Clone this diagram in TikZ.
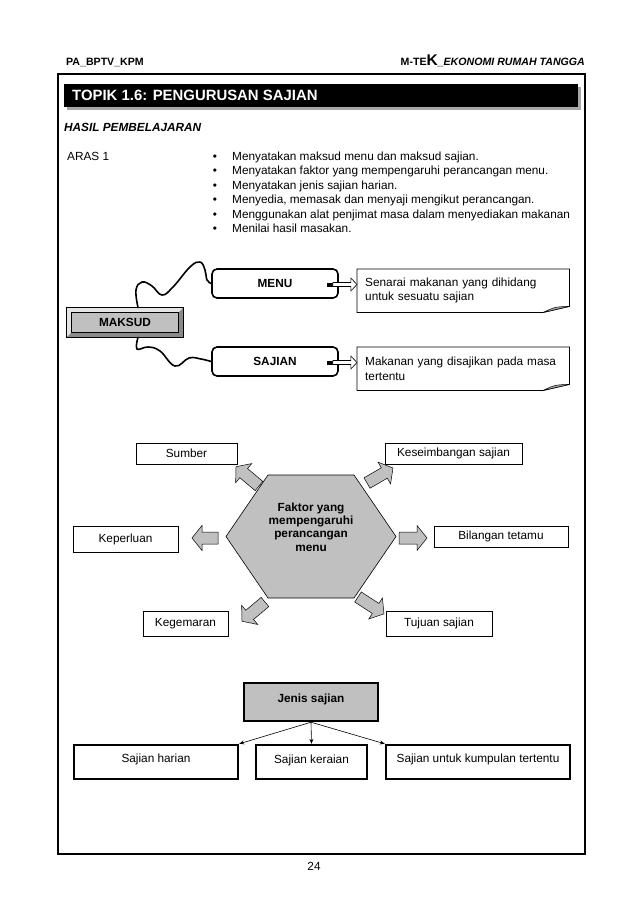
\documentclass[tikz,border=0pt]{standalone}
\usepackage{fontspec}
\setmainfont{Liberation Sans}
\definecolor{greyFill}{HTML}{C0C0C0}
\definecolor{greyLight}{HTML}{E4E4E4}
\definecolor{greyDark}{HTML}{8A8A8A}
\definecolor{greyShadow}{HTML}{A6A6A6}
\usetikzlibrary{
  positioning,
  calc,
  arrows.meta
}
\newcommand{\bodyfont}{\fontsize{11.8}{14.3}\selectfont}

\tikzset{
  factorbox/.style = {draw, line width = 0.8pt, inner sep = 0pt, font = \bodyfont},
  thickbox/.style = {draw, line width = 2.4pt, inner sep = 0pt, fill = white, font = \bodyfont},
  roundbox/.style = {
    draw, line width = 1.6pt, rounded corners = 5pt, fill = white, inner sep = 0pt,
    minimum width = 126pt, minimum height = 29pt, font = \bodyfont\bfseries
  },
  notebox/.style = {
    align = left, text width = 196pt, inner xsep = 8pt, inner ysep = 0pt,
    minimum height = 43pt, anchor = north west, font = \bodyfont
  },
  blockarr/.style = {draw, line width = 0.5pt, fill = greyFill},
  hollowarr/.style = {draw, line width = 0.6pt, fill = white},
  wavy/.style = {line width = 1.6pt, line cap = round},
  thinlink/.style = {-{Stealth[length = 5pt, width = 4pt]}, line width = 0.6pt}
}

\begin{document}
\begin{tikzpicture}[x = 1pt, y = -1pt, font = \bodyfont]
  \useasboundingbox (0,0) rectangle (638,903);

  % Header.
  \node[anchor = base west, inner sep = 0pt, font = \fontsize{10.6}{12}\selectfont\bfseries]
    (hleft) at (66,65.5) {PA\_BPTV\_KPM};
  \node[anchor = base east, inner sep = 0pt, font = \fontsize{10.6}{12}\selectfont\bfseries]
    (hright) at (585,65.5) {M-TE{\fontsize{15.5}{16}\selectfont K}\textit{\_EKONOMI RUMAH TANGGA}};

  % Frame.
  \draw[line width = 2pt] (58,74) rectangle (585,854);

  % Title bar.
  \fill[greyShadow] (67,87) rectangle (581,110);
  \fill[black] (64,84) rectangle (578,107);
  \node[anchor = west, inner sep = 0pt, text = white, font = \fontsize{14.9}{18}\selectfont\bfseries]
    (topik) at (72,95.5) {TOPIK 1.6: PENGURUSAN SAJIAN};

  % Learning outcomes.
  \node[anchor = base west, inner sep = 0pt, font = \bodyfont\bfseries\itshape]
    (hasil) at (64,131.3) {HASIL PEMBELAJARAN};
  \node[anchor = base west, inner sep = 0pt] (aras) at (67,160) {ARAS 1};
  \foreach \txt [count = \i from 0] in {
    {Menyatakan maksud menu dan maksud sajian.},
    {Menyatakan faktor yang mempengaruhi perancangan menu.},
    {Menyatakan jenis sajian harian.},
    {Menyedia, memasak dan menyaji mengikut perancangan.},
    {Menggunakan alat penjimat masa dalam menyediakan makanan},
    {Menilai hasil masakan.}
  }{
    \node[anchor = base, inner sep = 0pt] (dot\i) at (215,160+14.5*\i) {\textbullet};
    \node[anchor = base west, inner sep = 0pt] (obj\i) at (232,160+14.5*\i) {\txt};
  }

  % Maksud.
  \node[draw, line width = 0.8pt, fill = greyFill, minimum width = 116pt, minimum height = 29pt,
    inner sep = 0pt, font = \bodyfont\bfseries] (maksud) at (125,322.5) {MAKSUD};
  \fill[greyLight] (maksud.north west) -- (maksud.north east) -- ($(maksud.north east)+(-5,5)$)
    -- ($(maksud.north west)+(5,5)$) -- ($(maksud.south west)+(5,-5)$) -- (maksud.south west) -- cycle;
  \fill[greyDark] (maksud.south east) -- (maksud.south west) -- ($(maksud.south west)+(5,-5)$)
    -- ($(maksud.south east)+(-5,-5)$) -- ($(maksud.north east)+(-5,5)$) -- (maksud.north east) -- cycle;
  \draw[line width = 0.5pt] ($(maksud.north west)+(5,5)$) rectangle ($(maksud.south east)+(-5,-5)$);
  \draw[line width = 0.8pt] (maksud.north west) rectangle (maksud.south east);

  % Menu and sajian.
  \node[roundbox] (menu) at (275,283.5) {MENU};
  \node[roundbox] (sajian) at (275,361.5) {SAJIAN};

  % Notes.
  \node[notebox] (senarai) at (357,269) {Senarai makanan yang dihidang\\untuk sesuatu sajian};
  \node[notebox] (makanan) at (357,347) {Makanan yang disajikan pada masa\\tertentu};
  \foreach \n in {senarai, makanan}{
    \draw[line width = 0.8pt] (\n.north west) -- (\n.north east) -- ($(\n.south east)+(0,-6)$)
      -- ($(\n.south east)+(-26,0)$) -- (\n.south west) -- cycle;
    \filldraw[fill = greyShadow, line width = 0.5pt] ($(\n.south east)+(-26,0)$)
      .. controls ($(\n.south east)+(-15,-5.5)$) .. ($(\n.south east)+(0,-6)$) -- cycle;
  }

  % Wavy links.
  \coordinate (mtop) at ($(maksud.north)+(13,0)$);
  \coordinate (mbot) at ($(maksud.south)+(13,0)$);
  \draw[wavy] plot[smooth, tension = 0.7] coordinates {(mtop) (136,290) (142,282) (152,286)
    (162,295) (173,287) (190,267) (200,262) (205,270) (207,280) (menu.west)};
  \draw[wavy] plot[smooth, tension = 0.7] coordinates {(mbot) (137,349) (148,347) (160,351)
    (175,366) (189,358) (201,359) (sajian.west)};

  % Hollow arrows.
  \foreach \src/\dst in {menu/senarai, sajian/makanan}{
    \coordinate (a) at ($(\src.east)+(-12,1)$);
    \fill ($(a)+(0,-2)$) rectangle ($(a)+(6,2)$);
    \draw[hollowarr] ($(a)+(6,-2)$) -- ($(a)+(24,-2)$) -- ($(a)+(24,-6.5)$) -- (\dst.west |- a)
      -- ($(a)+(24,6.5)$) -- ($(a)+(24,2)$) -- ($(a)+(6,2)$) -- cycle;
  }

  % Hexagon.
  \draw[line width = 0.6pt, fill = greyFill] (226,536.5) -- (268,475) -- (354,475) -- (396,536.5)
    -- (354,598) -- (268,598) -- cycle;
  \node[align = center, inner sep = 0pt, font = \fontsize{11.8}{13.3}\selectfont\bfseries]
    (faktor) at (311,527) {Faktor yang\\mempengaruhi\\perancangan\\menu};

  % Factors.
  \node[factorbox, minimum width = 101pt, minimum height = 21pt] (sumber) at (186.5,453.5) {Sumber};
  \node[factorbox, minimum width = 105pt, minimum height = 26pt] (keperluan) at (125.5,539) {Keperluan};
  \node[factorbox, minimum width = 85pt, minimum height = 25pt] (kegemaran) at (185.5,623.5) {Kegemaran};
  \node[factorbox, minimum width = 137pt, minimum height = 21pt] (keseimbangan) at (453.5,453.5) {Keseimbangan sajian};
  \node[factorbox, minimum width = 134pt, minimum height = 21pt] (bilangan) at (501,536.5) {Bilangan tetamu};
  \node[factorbox, minimum width = 106pt, minimum height = 25pt] (tujuan) at (439,623.5) {Tujuan sajian};

  % Block arrows.
  \foreach \x/\y/\a/\l in {259/486/140/30, 218/538/180/26, 265/602/220/30,
                           367/483/30/30, 399/538/0/28, 358/597/-33/31}{
    \begin{scope}[shift = {(\x,\y)}, rotate = \a]
      \draw[blockarr] (0,-6) -- (\l-10,-6) -- (\l-10,-12.5) -- (\l,0) -- (\l-10,12.5)
        -- (\l-10,6) -- (0,6) -- cycle;
    \end{scope}
  }

  % Jenis sajian.
  \node[thickbox, fill = greyFill, minimum width = 134pt, minimum height = 38pt,
    font = \bodyfont\bfseries, text height = 8.5pt, text depth = 7pt] (jenis) at (311,702) {Jenis sajian};
  \node[thickbox, minimum width = 164pt, minimum height = 34pt, text height = 8.5pt,
    text depth = 8pt] (harian) at (156,762) {Sajian harian};
  \node[thickbox, minimum width = 111pt, minimum height = 34pt, text height = 8.5pt,
    text depth = 6pt] (keraian) at (311.5,762) {Sajian keraian};
  \node[thickbox, minimum width = 184pt, minimum height = 34pt, text height = 8.5pt,
    text depth = 8pt] (kumpulan) at (478,762) {Sajian untuk kumpulan tertentu};
  \draw[thinlink] (jenis.south) -- (harian.north east);
  \draw[thinlink] (jenis.south) -- (keraian.north);
  \draw[thinlink] (jenis.south) -- (kumpulan.north west);

  % Page number.
  \node[inner sep = 0pt] (pagenum) at (314,866) {24};
\end{tikzpicture}
\end{document}
